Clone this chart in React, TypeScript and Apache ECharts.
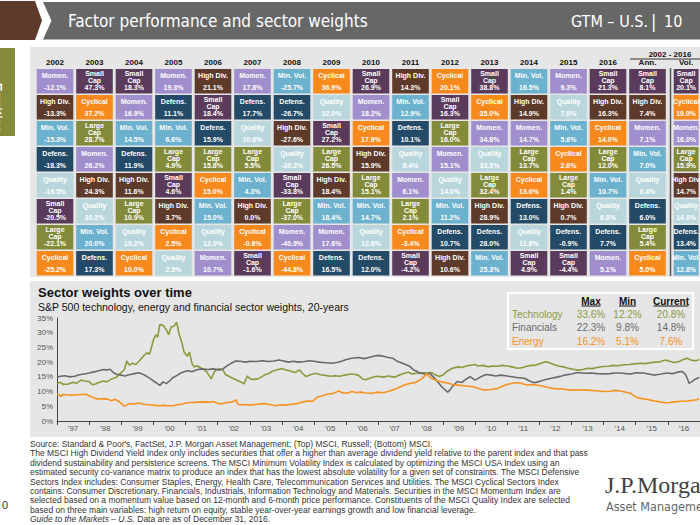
import React, { useEffect, useRef } from 'react';
import * as echarts from 'echarts';

// ---------- Heatmap data (ranked top to bottom within each column) ----------
const columns = ['2002', '2003', '2004', '2005', '2006', '2007', '2008', '2009', '2010', '2011', '2012', '2013', '2014', '2015', '2016', 'Ann.', 'Vol.'];

const rankNames: string[][] = [
  ['Momen.', 'High Div.', 'Min. Vol.', 'Defens.', 'Quality', 'Small Cap', 'Large Cap', 'Cyclical'],
  ['Small Cap', 'Cyclical', 'Large Cap', 'Momen.', 'High Div.', 'Quality', 'Min. Vol.', 'Defens.'],
  ['Small Cap', 'Momen.', 'Min. Vol.', 'Defens.', 'High Div.', 'Large Cap', 'Quality', 'Cyclical'],
  ['Momen.', 'Defens.', 'Min. Vol.', 'Large Cap', 'Small Cap', 'High Div.', 'Cyclical', 'Quality'],
  ['High Div.', 'Small Cap', 'Defens.', 'Large Cap', 'Cyclical', 'Min. Vol.', 'Quality', 'Momen.'],
  ['Momen.', 'Defens.', 'Quality', 'Large Cap', 'Min. Vol.', 'High Div.', 'Cyclical', 'Small Cap'],
  ['Min. Vol.', 'Defens.', 'High Div.', 'Quality', 'Small Cap', 'Large Cap', 'Momen.', 'Cyclical'],
  ['Cyclical', 'Quality', 'Small Cap', 'Large Cap', 'High Div.', 'Min. Vol.', 'Momen.', 'Defens.'],
  ['Small Cap', 'Momen.', 'Cyclical', 'High Div.', 'Large Cap', 'Min. Vol.', 'Quality', 'Defens.'],
  ['High Div.', 'Min. Vol.', 'Defens.', 'Quality', 'Momen.', 'Large Cap', 'Cyclical', 'Small Cap'],
  ['Cyclical', 'Small Cap', 'Large Cap', 'Momen.', 'Quality', 'Min. Vol.', 'Defens.', 'High Div.'],
  ['Small Cap', 'Cyclical', 'Momen.', 'Quality', 'Large Cap', 'High Div.', 'Defens.', 'Min. Vol.'],
  ['Min. Vol.', 'High Div.', 'Momen.', 'Large Cap', 'Cyclical', 'Defens.', 'Quality', 'Small Cap'],
  ['Momen.', 'Quality', 'Min. Vol.', 'Cyclical', 'Large Cap', 'High Div.', 'Defens.', 'Small Cap'],
  ['Small Cap', 'High Div.', 'Cyclical', 'Large Cap', 'Min. Vol.', 'Quality', 'Defens.', 'Momen.'],
  ['Small Cap', 'High Div.', 'Momen.', 'Min. Vol.', 'Quality', 'Defens.', 'Large Cap', 'Cyclical'],
  ['Small Cap', 'Cyclical', 'Momen.', 'Large Cap', 'High Div.', 'Quality', 'Defens.', 'Min. Vol.'],
];

const rankValues: number[][] = [
  [-12.1, -13.3, -15.3, -18.3, -19.5, -20.5, -22.1, -25.2],
  [47.3, 37.2, 28.7, 26.2, 24.3, 20.2, 20.0, 17.3],
  [18.3, 16.9, 14.5, 11.9, 11.6, 10.9, 10.2, 10.0],
  [19.3, 11.1, 6.6, 4.9, 4.6, 3.7, 2.5, 2.5],
  [21.1, 18.4, 15.9, 15.8, 15.0, 15.0, 12.0, 10.7],
  [17.8, 17.7, 10.6, 5.5, 4.3, 0.0, -0.8, -1.6],
  [-25.7, -26.7, -27.6, -30.2, -33.8, -37.0, -40.9, -44.8],
  [36.9, 32.0, 27.2, 26.5, 18.4, 18.4, 17.6, 16.5],
  [26.9, 18.2, 17.9, 15.9, 15.1, 14.7, 12.6, 12.0],
  [14.3, 12.9, 10.1, 8.4, 6.1, 2.1, -3.4, -4.2],
  [20.1, 16.3, 16.0, 15.1, 14.0, 11.2, 10.7, 10.6],
  [38.8, 35.0, 34.8, 33.5, 32.4, 28.9, 28.0, 25.3],
  [16.5, 14.9, 14.7, 13.7, 13.6, 13.0, 11.8, 4.9],
  [9.3, 7.0, 5.6, 2.6, 1.4, 0.7, -0.9, -4.4],
  [21.3, 16.3, 14.0, 12.0, 10.7, 6.0, 7.7, 5.1],
  [8.1, 7.4, 7.1, 7.0, 6.4, 6.0, 5.4, 5.0],
  [20.1, 19.0, 16.0, 15.9, 14.7, 14.0, 13.4, 12.8],
];

const rowLabels = ['1', '2', '3', '4', '5', '6', '7', '8'];

// ---------- Sector weights data ([year, % of S&P 500]) ----------
const yearLabels = ["'97", "'98", "'99", "'00", "'01", "'02", "'03", "'04", "'05", "'06", "'07", "'08", "'09", "'10", "'11", "'12", "'13", "'14", "'15", "'16"];

const technology: number[][] = [
  [1997.0, 12.6], [1997.1, 13.2], [1997.2, 12.4], [1997.35, 12.6], [1997.5, 13.2], [1997.6, 12.8], [1997.75, 13.9], [1997.85, 13.6],
  [1998.0, 13.4], [1998.1, 12.3], [1998.2, 12.6], [1998.3, 13.1], [1998.45, 13.6], [1998.55, 13.3], [1998.7, 14.3], [1998.85, 14.9],
  [1999.0, 16.5], [1999.1, 17.6], [1999.17, 20.4], [1999.25, 19.0], [1999.35, 19.6], [1999.45, 19.2], [1999.55, 20.3], [1999.7, 22.2],
  [1999.8, 23.2], [1999.88, 22.7], [2000.0, 27.5], [2000.07, 29.3], [2000.13, 28.5], [2000.2, 32.8], [2000.3, 32.5], [2000.4, 31.0],
  [2000.47, 29.3], [2000.55, 31.9], [2000.65, 32.3], [2000.72, 33.6], [2000.8, 29.5], [2000.88, 26.8], [2000.95, 23.5], [2001.05, 22.0],
  [2001.12, 23.4], [2001.2, 19.5], [2001.27, 18.3], [2001.35, 18.8], [2001.45, 18.2], [2001.55, 17.6], [2001.65, 16.8], [2001.72, 15.6],
  [2001.8, 14.3], [2001.88, 16.4], [2001.95, 17.5], [2002.05, 17.7], [2002.15, 17.5], [2002.25, 15.7], [2002.35, 15.2], [2002.45, 14.6],
  [2002.55, 14.1], [2002.65, 13.6], [2002.75, 13.1], [2002.82, 12.6], [2002.92, 15.3], [2003.0, 14.4], [2003.1, 14.1], [2003.25, 14.3],
  [2003.35, 14.9], [2003.45, 15.6], [2003.6, 16.2], [2003.7, 16.9], [2003.85, 17.4], [2004.0, 17.8], [2004.1, 17.4], [2004.25, 17.0],
  [2004.4, 16.5], [2004.55, 17.3], [2004.65, 16.0], [2004.75, 15.1], [2004.9, 15.8], [2005.05, 16.2], [2005.2, 15.7], [2005.35, 15.5],
  [2005.5, 15.2], [2005.65, 15.4], [2005.8, 15.2], [2005.95, 15.6], [2006.1, 15.9], [2006.25, 15.9], [2006.38, 15.5], [2006.5, 14.3],
  [2006.6, 14.0], [2006.75, 14.6], [2006.9, 15.1], [2007.0, 15.2], [2007.15, 14.9], [2007.3, 15.3], [2007.5, 14.9], [2007.65, 15.6],
  [2007.8, 16.2], [2007.93, 16.6], [2008.05, 16.0], [2008.2, 16.2], [2008.35, 16.4], [2008.5, 16.3], [2008.65, 16.5], [2008.78, 15.6],
  [2008.9, 15.1], [2009.0, 15.6], [2009.15, 17.0], [2009.3, 17.9], [2009.48, 18.4], [2009.6, 18.2], [2009.75, 18.8], [2009.9, 19.0],
  [2010.0, 19.2], [2010.1, 18.7], [2010.25, 18.9], [2010.4, 18.4], [2010.55, 18.7], [2010.7, 18.6], [2010.85, 18.9], [2011.0, 18.7],
  [2011.15, 18.4], [2011.33, 17.9], [2011.5, 18.2], [2011.6, 18.6], [2011.74, 18.9], [2011.9, 19.0], [2012.05, 19.6], [2012.2, 20.1],
  [2012.3, 19.9], [2012.45, 19.2], [2012.6, 18.7], [2012.75, 18.4], [2012.9, 17.9], [2013.05, 17.6], [2013.2, 17.3], [2013.35, 17.5],
  [2013.5, 17.9], [2013.65, 17.8], [2013.8, 18.2], [2014.0, 18.5], [2014.15, 18.6], [2014.3, 18.9], [2014.45, 18.8], [2014.63, 19.1],
  [2014.8, 19.2], [2014.95, 19.4], [2015.15, 19.6], [2015.3, 19.5], [2015.45, 19.8], [2015.6, 20.0], [2015.75, 20.1], [2015.93, 20.7],
  [2016.05, 20.3], [2016.2, 19.9], [2016.35, 20.2], [2016.5, 21.0], [2016.6, 21.3], [2016.72, 20.7], [2016.85, 20.5], [2016.97, 20.8],
];

const financials: number[][] = [
  [1997.0, 14.8], [1997.1, 15.2], [1997.25, 15.4], [1997.4, 15.0], [1997.55, 15.2], [1997.7, 15.7], [1997.85, 16.0], [1998.0, 16.3],
  [1998.15, 16.7], [1998.3, 17.1], [1998.45, 17.5], [1998.55, 17.3], [1998.65, 17.6], [1998.75, 16.5], [1998.85, 15.9], [1999.0, 15.6],
  [1999.1, 15.3], [1999.25, 15.7], [1999.4, 16.1], [1999.55, 16.4], [1999.65, 16.0], [1999.8, 15.1], [1999.9, 14.4], [2000.0, 13.6],
  [2000.1, 12.9], [2000.2, 12.1], [2000.3, 13.3], [2000.4, 12.7], [2000.5, 13.6], [2000.6, 14.7], [2000.75, 15.6], [2000.85, 16.3],
  [2001.0, 16.9], [2001.1, 17.1], [2001.2, 16.7], [2001.35, 17.4], [2001.5, 17.7], [2001.7, 17.5], [2001.85, 17.7], [2002.05, 17.3],
  [2002.15, 17.6], [2002.3, 18.8], [2002.45, 19.8], [2002.56, 20.4], [2002.7, 20.3], [2002.87, 20.0], [2003.0, 20.3], [2003.2, 20.2],
  [2003.4, 20.5], [2003.55, 20.2], [2003.75, 20.4], [2003.9, 20.7], [2004.05, 20.4], [2004.2, 20.0], [2004.35, 20.3], [2004.5, 20.0],
  [2004.7, 20.2], [2004.85, 20.5], [2005.0, 20.3], [2005.15, 20.0], [2005.35, 19.8], [2005.55, 19.6], [2005.7, 19.9], [2005.85, 20.3],
  [2006.0, 20.9], [2006.17, 21.3], [2006.38, 21.6], [2006.55, 21.2], [2006.7, 21.6], [2006.85, 22.0], [2007.0, 22.3], [2007.15, 22.0],
  [2007.3, 21.6], [2007.45, 21.3], [2007.6, 20.2], [2007.75, 19.6], [2007.88, 19.0], [2007.98, 18.5], [2008.1, 17.3], [2008.2, 16.8],
  [2008.3, 16.2], [2008.45, 16.0], [2008.6, 16.2], [2008.75, 14.5], [2008.85, 13.2], [2008.96, 11.7], [2009.05, 10.8], [2009.15, 9.8],
  [2009.22, 10.5], [2009.3, 11.7], [2009.45, 13.4], [2009.6, 13.1], [2009.72, 14.2], [2009.85, 15.1], [2010.0, 13.9], [2010.1, 14.5],
  [2010.2, 15.1], [2010.35, 15.8], [2010.5, 15.6], [2010.65, 15.3], [2010.8, 15.6], [2010.95, 15.4], [2011.1, 15.1], [2011.3, 14.8],
  [2011.54, 14.5], [2011.7, 13.6], [2011.85, 13.0], [2011.95, 13.3], [2012.05, 13.6], [2012.2, 14.1], [2012.38, 14.5], [2012.55, 14.9],
  [2012.7, 15.3], [2012.79, 15.6], [2013.0, 16.0], [2013.2, 16.5], [2013.4, 16.2], [2013.6, 16.3], [2013.8, 16.1], [2014.0, 16.0],
  [2014.2, 16.1], [2014.35, 16.3], [2014.53, 16.3], [2014.7, 16.1], [2014.84, 16.0], [2015.0, 16.4], [2015.25, 16.3], [2015.4, 16.0],
  [2015.56, 15.6], [2015.75, 15.9], [2015.97, 16.3], [2016.15, 16.1], [2016.3, 16.6], [2016.45, 16.8], [2016.55, 15.8], [2016.62, 14.0],
  [2016.66, 12.8], [2016.75, 13.4], [2016.85, 14.2], [2016.97, 14.8],
];

const energy: number[][] = [
  [1997.0, 9.1], [1997.07, 8.8], [1997.12, 8.4], [1997.2, 9.0], [1997.3, 8.9], [1997.45, 8.8], [1997.6, 8.9], [1997.75, 9.0],
  [1997.9, 9.1], [1998.0, 8.6], [1998.1, 8.1], [1998.2, 7.6], [1998.35, 7.5], [1998.5, 7.6], [1998.6, 7.3], [1998.7, 6.9],
  [1998.8, 7.4], [1998.9, 6.8], [1999.0, 6.0], [1999.08, 5.1], [1999.15, 5.3], [1999.25, 5.9], [1999.4, 5.8], [1999.55, 6.1],
  [1999.7, 5.7], [1999.85, 5.5], [2000.0, 5.4], [2000.15, 5.2], [2000.3, 5.3], [2000.45, 5.2], [2000.6, 5.2], [2000.75, 5.5],
  [2000.9, 5.8], [2001.05, 6.2], [2001.2, 6.3], [2001.4, 6.4], [2001.6, 6.5], [2001.75, 6.4], [2001.85, 6.6], [2002.0, 6.0],
  [2002.1, 5.8], [2002.25, 6.2], [2002.4, 6.4], [2002.52, 6.8], [2002.57, 7.2], [2002.62, 5.7], [2002.7, 5.5], [2002.85, 5.6],
  [2003.0, 5.4], [2003.15, 5.6], [2003.3, 5.8], [2003.45, 5.9], [2003.6, 5.6], [2003.8, 5.2], [2003.95, 5.5], [2004.1, 5.4],
  [2004.3, 5.7], [2004.5, 6.0], [2004.65, 6.5], [2004.8, 6.8], [2004.95, 6.7], [2005.1, 8.1], [2005.2, 8.4], [2005.35, 8.9],
  [2005.45, 9.2], [2005.6, 9.4], [2005.7, 9.9], [2005.76, 10.2], [2005.9, 9.5], [2006.05, 9.5], [2006.17, 10.0], [2006.3, 9.7],
  [2006.45, 9.8], [2006.6, 9.5], [2006.8, 9.4], [2006.95, 9.8], [2007.15, 9.6], [2007.3, 10.0], [2007.5, 10.8], [2007.7, 11.7],
  [2007.85, 12.4], [2008.0, 12.8], [2008.15, 13.1], [2008.34, 14.3], [2008.45, 15.4], [2008.5, 16.2], [2008.56, 15.3], [2008.65, 14.5],
  [2008.75, 14.0], [2008.86, 13.6], [2009.0, 13.2], [2009.17, 12.8], [2009.3, 12.4], [2009.48, 12.2], [2009.65, 12.0], [2009.8, 11.8],
  [2009.9, 11.7], [2010.05, 11.3], [2010.2, 10.8], [2010.3, 10.5], [2010.5, 10.7], [2010.7, 11.0], [2010.85, 11.8], [2011.03, 12.5],
  [2011.2, 12.9], [2011.34, 13.1], [2011.5, 12.6], [2011.64, 12.2], [2011.8, 12.4], [2012.05, 12.0], [2012.25, 11.5], [2012.46, 11.0],
  [2012.7, 10.9], [2013.0, 10.5], [2013.25, 10.6], [2013.5, 10.5], [2013.75, 10.3], [2014.0, 10.0], [2014.2, 10.1], [2014.35, 10.4],
  [2014.53, 10.2], [2014.7, 9.8], [2014.84, 9.4], [2014.95, 8.6], [2015.05, 7.9], [2015.2, 7.6], [2015.35, 7.4], [2015.46, 7.1],
  [2015.6, 6.8], [2015.75, 6.5], [2015.93, 6.2], [2016.05, 6.3], [2016.2, 6.5], [2016.4, 6.7], [2016.6, 6.8], [2016.75, 7.0],
  [2016.9, 7.2], [2016.97, 7.6],
];

// Summary table
const statHeaders = ['Max', 'Min', 'Current'];
const statSectors = ['Technology', 'Financials', 'Energy'];
const statMax = ['33.6%', '22.3%', '16.2%'];
const statMin = ['12.2%', '9.8%', '5.1%'];
const statCurrent = ['20.8%', '14.8%', '7.6%'];

const footerLines = [
  "Source: Standard & Poor's, FactSet, J.P. Morgan Asset Management; (Top) MSCI, Russell; (Bottom) MSCI.",
  'The MSCI High Dividend Yield Index only includes securities that offer a higher than average dividend yield relative to the parent index and that pass',
  'dividend sustainability and persistence screens. The MSCI Minimum Volatility Index is calculated by optimizing the MSCI USA Index using an',
  'estimated security co-variance matrix to produce an index that has the lowest absolute volatility for a given set of constraints. The MSCI Defensive',
  'Sectors Index includes: Consumer Staples, Energy, Health Care, Telecommunication Services and Utilities. The MSCI Cyclical Sectors Index',
  'contains: Consumer Discretionary, Financials, Industrials, Information Technology and Materials. Securities in the MSCI Momentum Index are',
  'selected based on a momentum value based on 12-month and 6-month price performance. Constituents of the MSCI Quality Index are selected',
  'based on three main variables: high return on equity, stable year-over-year earnings growth and low financial leverage.',
];

// ---------- Styles ----------
const FONT = '"Liberation Sans", Arial, Helvetica, sans-serif';
const NARROW = '"Liberation Sans Narrow", "DejaVu Sans Condensed", "Liberation Sans", sans-serif';
const SERIF = '"Liberation Serif", "DejaVu Serif", serif';

const factorColors: Record<string, string> = {
  'Momen.': '#a08ecd',
  'Small Cap': '#5a3b5b',
  'High Div.': '#5e3a2a',
  'Min. Vol.': '#6cb1cd',
  'Defens.': '#234a66',
  'Cyclical': '#f7891d',
  'Quality': '#b9d6dd',
  'Large Cap': '#838b3b',
};
const TECH = '#8a9b3e';
const FIN = '#6a6a6a';
const ENERGY = '#f7921f';
const PANEL = '#e6e6e6';
const FOOT = 8.5;

const fmtPct = (v: number) => `${v.toFixed(1)}%`;

function renderCell(_params: any, api: any) {
  const xi = api.value(0);
  const row = api.value(1);
  const pct = api.value(2);
  const col = api.value(3);
  const c = api.coord([xi, row]);
  const s = api.size([1, 1]);
  const w = s[0] - 2.9;
  const h = s[1] - 1.5;
  const x0 = c[0] - w / 2;
  const y0 = c[1] - h / 2;
  const name = rankNames[col][row];
  const txt = (t: string, y: number) => ({
    type: 'text',
    style: {
      text: t, x: c[0], y,
      align: 'center', verticalAlign: 'middle',
      textAlign: 'center', textVerticalAlign: 'middle',
      fill: '#ffffff', fontSize: 7, fontWeight: 'bold', fontFamily: FONT,
    },
  });
  const children: any[] = [
    { type: 'rect', shape: { x: x0, y: y0, width: w, height: h }, style: { fill: factorColors[name] } },
  ];
  if (name.endsWith('Cap')) {
    const parts = name.split(' ');
    children.push(txt(parts[0], y0 + 4.6), txt(parts[1], y0 + 11.5));
  } else {
    children.push(txt(name, y0 + 6.3));
  }
  children.push(txt(fmtPct(pct), y0 + 18.6));
  return { type: 'group', children };
}

function buildCells(colFrom: number, colTo: number) {
  const out: number[][] = [];
  for (let col = colFrom; col <= colTo; col++) {
    for (let row = 0; row < 8; row++) {
      out.push([col - colFrom, row, rankValues[col][row], col]);
    }
  }
  return out;
}

const T = (x: number, y: number, text: string, style: any, extra: any = {}) => ({
  type: 'text', x, y, z: 100, ...extra,
  style: { text, fill: '#111', fontFamily: FONT, fontSize: 10, textVerticalAlign: 'middle', verticalAlign: 'middle', ...style },
});

export default function App() {
  const ref = useRef<HTMLDivElement>(null);

  useEffect(() => {
    if (!ref.current) return;
    const chart = echarts.init(ref.current, undefined, { renderer: 'svg', width: 700, height: 525 });

    const graphic: any[] = [];
    // Panels
    graphic.push({ type: 'rect', z: 0, shape: { x: 30, y: 47, width: 672, height: 230 }, style: { fill: PANEL } });
    graphic.push({ type: 'rect', z: 0, shape: { x: 30, y: 281, width: 672, height: 156 }, style: { fill: PANEL } });
    // Header
    graphic.push({ type: 'polygon', z: 100, shape: { points: [[0, 1], [35, 1], [42, 20.5], [35, 40], [0, 40]] }, style: { fill: '#5e3a2a' } });
    graphic.push({ type: 'polygon', z: 100, shape: { points: [[43, 2], [702, 2], [702, 39.5], [43, 39.5], [51.5, 20.8]] }, style: { fill: '#676767' } });
    graphic.push(T(68, 21, 'Factor performance and sector weights', { fill: '#ffffff', fontSize: 17, fontFamily: NARROW }));
    graphic.push(T(571, 21.5, 'GTM – U.S.', { fill: '#ffffff', fontSize: 16, fontFamily: NARROW }));
    graphic.push(T(651, 21, '|', { fill: '#ffffff', fontSize: 18, fontFamily: NARROW }));
    graphic.push(T(664, 21.5, '10', { fill: '#ffffff', fontSize: 16, fontFamily: NARROW }));
    // Side tab
    graphic.push({ type: 'rect', z: 100, shape: { x: 0, y: 48, width: 15, height: 88 }, style: { fill: '#868a3b' } });
    graphic.push(T(-2.5, 108, 'Equities', { fill: '#ffffff', fontSize: 13, fontWeight: 'bold', textAlign: 'center', align: 'center' }, { rotation: -Math.PI / 2 }));
    // Heatmap extras
    graphic.push(T(670, 54.5, '2002 - 2016', { fontSize: 8, fontWeight: 'bold', textAlign: 'center', align: 'center', fill: '#111' }));
    graphic.push({ type: 'line', z: 100, shape: { x1: 630, y1: 59, x2: 702, y2: 59 }, style: { stroke: '#333', lineWidth: 1 } });
    graphic.push({ type: 'line', z: 100, shape: { x1: 670.5, y1: 68, x2: 670.5, y2: 276 }, style: { stroke: '#555', lineWidth: 1.5 } });
    // Line chart titles
    graphic.push(T(38, 292.5, 'Sector weights over time', { fontSize: 13, fontWeight: 'bold', fill: '#111' }));
    graphic.push(T(38, 307, 'S&P 500 technology, energy and financial sector weights, 20-years', { fontSize: 10.5, fill: '#111' }));
    // Summary table
    graphic.push({ type: 'rect', z: 100, shape: { x: 508, y: 293, width: 185, height: 56 }, style: { fill: 'none', stroke: '#ffffff', lineWidth: 2 } });
    const colX = [591, 627.5, 671];
    const ulW = [19, 17, 35];
    statHeaders.forEach((h, i) => {
      graphic.push(T(colX[i], 301, h, { fontSize: 10, fontWeight: 'bold', textAlign: 'center', align: 'center', fill: '#111' }));
      graphic.push({ type: 'line', z: 100, shape: { x1: colX[i] - ulW[i] / 2, y1: 306, x2: colX[i] + ulW[i] / 2, y2: 306 }, style: { stroke: '#111', lineWidth: 1 } });
    });
    const rowColors = [TECH, FIN, ENERGY];
    statSectors.forEach((s, i) => {
      const y = 314.5 + i * 13.3;
      const st = { fontSize: 10, fill: rowColors[i] };
      graphic.push(T(512, y, s, st));
      graphic.push(T(colX[0], y, statMax[i], { ...st, textAlign: 'center', align: 'center' }));
      graphic.push(T(colX[1], y, statMin[i], { ...st, textAlign: 'center', align: 'center' }));
      graphic.push(T(colX[2], y, statCurrent[i], { ...st, textAlign: 'center', align: 'center' }));
    });
    // Footer
    footerLines.forEach((line, i) => {
      graphic.push(T(30, 444 + i * 9.4, line, { fontSize: FOOT, fill: '#333' }));
    });
    graphic.push({
      type: 'text', x: 30, y: 444 + 8 * 9.4, z: 100,
      style: {
        text: '{i|Guide to the Markets – U.S.} Data are as of December 31, 2016.',
        fill: '#333', fontFamily: FONT, fontSize: FOOT, verticalAlign: 'middle', textVerticalAlign: 'middle',
        rich: { i: { fontStyle: 'italic', fontFamily: FONT, fontSize: FOOT, fill: '#333' } },
      },
    });
    graphic.push(T(2, 505, '0', { fontSize: 11, fill: '#333' }));
    graphic.push(T(605, 485, 'J.P.Morgan', { fontSize: 24, fontFamily: SERIF, fill: '#3f3f3f' }));
    graphic.push(T(606, 506, 'Asset Management', { fontSize: 12.5, fontFamily: NARROW, fill: '#666' }));

    const option: any = {
      animation: false,
      backgroundColor: '#ffffff',
      graphic: { elements: graphic },
      grid: [
        { left: 35.25, top: 68.25, width: 632, height: 208 },
        { left: 672.25, top: 68.25, width: 39.5, height: 208 },
        { left: 57, top: 318, width: 646, height: 103 },
      ],
      xAxis: [
        {
          type: 'category', gridIndex: 0, position: 'top', data: columns.slice(0, 16),
          axisLine: { show: false }, axisTick: { show: false },
          axisLabel: { fontSize: 8, fontWeight: 'bold', color: '#111', fontFamily: FONT, margin: 2, interval: 0 },
        },
        {
          type: 'category', gridIndex: 1, position: 'top', data: columns.slice(16),
          axisLine: { show: false }, axisTick: { show: false },
          axisLabel: { fontSize: 8, fontWeight: 'bold', color: '#111', fontFamily: FONT, margin: 2, interval: 0 },
        },
        {
          type: 'category', gridIndex: 2, position: 'bottom', data: yearLabels, boundaryGap: true,
          axisLine: { lineStyle: { color: '#444', width: 1 } },
          axisTick: { show: true, length: 4, lineStyle: { color: '#444' } },
          axisLabel: { fontSize: 8, color: '#555', fontFamily: FONT, margin: 3, interval: 0 },
        },
        { type: 'value', gridIndex: 2, position: 'top', min: 1997, max: 2017, show: false },
      ],
      yAxis: [
        { type: 'category', gridIndex: 0, data: rowLabels, inverse: true, show: false },
        { type: 'category', gridIndex: 1, data: rowLabels, inverse: true, show: false },
        {
          type: 'value', gridIndex: 2, min: 0, max: 35, interval: 5,
          axisLine: { show: true, lineStyle: { color: '#444', width: 1 } },
          axisTick: { show: false },
          splitLine: { show: false },
          axisLabel: { fontSize: 8, color: '#555', fontFamily: FONT, margin: 4, formatter: '{value}%' },
        },
      ],
      series: [
        { type: 'custom', xAxisIndex: 0, yAxisIndex: 0, renderItem: renderCell, data: buildCells(0, 15), z: 5 },
        { type: 'custom', xAxisIndex: 1, yAxisIndex: 1, renderItem: renderCell, data: buildCells(16, 16), z: 5 },
        {
          type: 'line', name: 'Technology', xAxisIndex: 3, yAxisIndex: 2, data: technology, showSymbol: false, symbol: 'none',
          lineStyle: { color: TECH, width: 1.6 }, itemStyle: { color: TECH }, z: 5,
        },
        {
          type: 'line', name: 'Financials', xAxisIndex: 3, yAxisIndex: 2, data: financials, showSymbol: false, symbol: 'none',
          lineStyle: { color: FIN, width: 1.6 }, itemStyle: { color: FIN }, z: 5,
        },
        {
          type: 'line', name: 'Energy', xAxisIndex: 3, yAxisIndex: 2, data: energy, showSymbol: false, symbol: 'none',
          lineStyle: { color: ENERGY, width: 1.6 }, itemStyle: { color: ENERGY }, z: 5,
        },
      ],
    };
    chart.setOption(option);
    return () => chart.dispose();
  }, []);

  return <div ref={ref} style={{ position: 'absolute', left: 0, top: 0, width: 700, height: 525, overflow: 'hidden' }} />;
}
